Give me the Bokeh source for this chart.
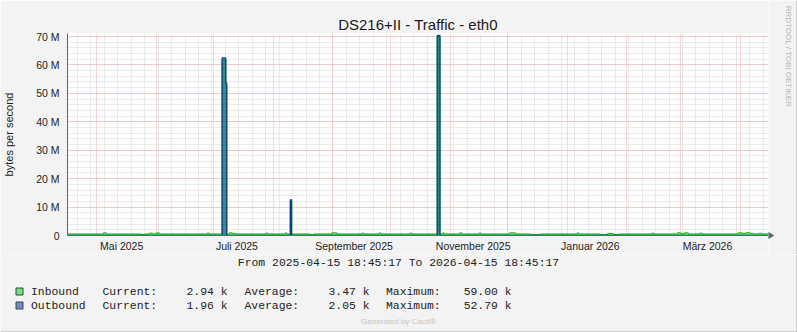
import math
import pandas as pd
from bokeh.plotting import figure
from bokeh.layouts import column, row
from bokeh.models import Range1d, FixedTicker
from bokeh.core.properties import value
from bokeh.embed import file_html
from bokeh.resources import INLINE

# ---------------- data ----------------
start_time = "2025-04-15 18:45:17"
end_time = "2026-04-15 18:45:17"

# Inbound (bytes/s): each value holds from its date until the next date
in_dates = [
    "2025-04-15 18:45:17", "2025-05-04 12:00", "2025-05-06 00:00", "2025-05-24 00:00",
    "2025-05-26 00:00", "2025-05-28 12:00", "2025-05-30 00:00", "2025-06-01 00:00",
    "2025-06-02 12:00", "2025-06-27 12:00", "2025-06-28 12:00", "2025-07-05 06:00",
    "2025-07-07 06:00", "2025-07-07 18:00", "2025-07-09 00:00", "2025-07-10 12:00",
    "2025-07-12 00:00", "2025-07-28 00:00", "2025-07-29 00:00", "2025-08-07 00:00",
    "2025-08-08 00:00", "2025-08-09 18:00", "2025-08-10 12:00", "2025-08-20 00:00",
    "2025-08-22 00:00", "2025-08-31 12:00", "2025-09-03 00:00", "2025-09-16 00:00",
    "2025-09-17 00:00", "2025-09-25 00:00", "2025-09-26 00:00", "2025-10-11 00:00",
    "2025-10-12 00:00", "2025-10-25 06:00", "2025-10-26 18:00", "2025-10-28 00:00",
    "2025-10-29 00:00", "2025-11-06 00:00", "2025-11-07 00:00", "2025-11-16 00:00",
    "2025-11-17 00:00", "2025-12-02 00:00", "2025-12-05 00:00", "2025-12-13 00:00",
    "2025-12-18 00:00", "2026-01-06 00:00", "2026-01-07 00:00", "2026-01-18 00:00",
    "2026-01-22 00:00", "2026-01-25 00:00", "2026-01-28 00:00", "2026-02-14 00:00",
    "2026-02-15 00:00", "2026-02-27 12:00", "2026-03-01 00:00", "2026-03-03 00:00",
    "2026-03-05 00:00", "2026-03-11 00:00", "2026-03-12 00:00", "2026-03-31 00:00",
    "2026-04-02 00:00", "2026-04-04 00:00", "2026-04-06 00:00", "2026-04-08 00:00",
    "2026-04-11 00:00", "2026-04-12 00:00",
]
in_vals = [
    0.55e6, 0.95e6, 0.55e6, 0.35e6,
    0.55e6, 0.85e6, 0.55e6, 0.95e6,
    0.55e6, 0.85e6, 0.55e6, 61.8e6,
    53.0e6, 0.55e6, 0.95e6, 0.75e6,
    0.55e6, 0.85e6, 0.55e6, 0.90e6,
    0.55e6, 12.0e6, 0.55e6, 0.35e6,
    0.55e6, 0.95e6, 0.55e6, 0.85e6,
    0.55e6, 0.90e6, 0.55e6, 0.85e6,
    0.55e6, 70.0e6, 0.55e6, 0.90e6,
    0.55e6, 0.95e6, 0.55e6, 0.85e6,
    0.55e6, 0.95e6, 0.55e6, 0.35e6,
    0.55e6, 0.90e6, 0.55e6, 0.35e6,
    0.75e6, 0.35e6, 0.55e6, 0.85e6,
    0.55e6, 1.00e6, 0.75e6, 0.95e6,
    0.55e6, 0.85e6, 0.55e6, 0.95e6,
    0.75e6, 1.00e6, 0.75e6, 0.55e6,
    0.85e6, 0.55e6,
]

# Outbound (bytes/s)
out_dates = [
    "2025-04-15 18:45:17", "2025-07-05 06:00", "2025-07-07 06:00", "2025-07-07 18:00",
    "2025-08-09 18:00", "2025-08-10 12:00", "2025-10-25 06:00", "2025-10-26 18:00",
]
out_vals = [
    0.10e6, 62.5e6, 53.7e6, 0.10e6,
    12.6e6, 0.10e6, 70.4e6, 0.10e6,
]

# axis labels
y_ticks = [0, 10e6, 20e6, 30e6, 40e6, 50e6, 60e6, 70e6]
y_labels = ["0", "10 M", "20 M", "30 M", "40 M", "50 M", "60 M", "70 M"]
x_label_dates = ["2025-05-14 00:00", "2025-07-13 00:00", "2025-09-12 00:00",
                 "2025-11-13 00:00", "2026-01-13 00:00", "2026-03-15 00:00"]
x_labels = ["Mai 2025", "Juli 2025", "September 2025",
            "November 2025", "Januar 2026", "März 2026"]

legend_names = ["Inbound", "Outbound"]
legend_current = ["2.94 k", "1.96 k"]
legend_average = ["3.47 k", "2.05 k"]
legend_maximum = ["59.00 k", "52.79 k"]
legend_box_fill = ["#74E374", "#7489C4"]

title_text = "DS216+II - Traffic - eth0"
range_text = "From 2025-04-15 18:45:17 To 2026-04-15 18:45:17"
generated_text = "Generated by Cacti®"
watermark_text = "RRDTOOL / TOBI OETIKER"

# ---------------- helpers ----------------
def ms(s):
    return pd.Timestamp(s).value / 1e6

def step_xy(dates, vals, end):
    xs, ys = [], []
    ts = [ms(d) for d in dates] + [ms(end)]
    for i, v in enumerate(vals):
        xs += [ts[i], ts[i + 1]]
        ys += [v, v]
    return xs, ys

t0, t1 = ms(start_time), ms(end_time)

BG = "#F3F3F3"
EDGE = "#A8A8A8"
SANS = "Liberation Sans"
MONO = "Liberation Mono"
TXT = "#222222"
axis_col = "#4F6F6A"

# ---------------- main chart ----------------
W, H_MAIN = 797, 254
FL, FR, FT, FB = 67, 768, 33, 235   # frame box in canvas px
Y_TOP = 70e6 * (FB - FT) / (FB - 36)

p = figure(width=FR, height=H_MAIN, output_backend="svg", toolbar_location=None,
           x_range=Range1d(t0, t1), y_range=Range1d(0, Y_TOP),
           x_axis_type="datetime",
           min_border_left=FL, min_border_right=0,
           min_border_top=FT, min_border_bottom=H_MAIN - FB)
p.border_fill_color = BG
p.background_fill_color = "#FFFFFF"
p.outline_line_color = None

p.title.text = title_text
p.title.align = "center"
p.title.offset = -19
p.title.standoff = 2
p.title.text_font = SANS
p.title.text_font_size = "15px"
p.title.text_font_style = "normal"
p.title.text_color = "#1A1A1A"

# grids: monthly red majors, weekly grey minors
month_starts = [ms(d) for d in pd.date_range("2025-05-01", "2026-04-01", freq="MS")]
mondays = [ms(d) for d in pd.date_range("2025-04-21", "2026-04-13", freq="7D")]
p.xgrid.ticker = FixedTicker(ticks=month_starts, minor_ticks=mondays)
p.ygrid.ticker = FixedTicker(ticks=y_ticks, minor_ticks=[v * 1e6 for v in range(0, 72, 2)])
for g in (p.xgrid, p.ygrid):
    g.grid_line_color = "#F3AAAA"
    g.grid_line_dash = "1 1"
    g.grid_line_width = 1
    g.minor_grid_line_color = "#D4D4D4"
    g.minor_grid_line_dash = "1 1"
    g.minor_grid_line_width = 1

# data areas and lines
ix, iy = step_xy(in_dates, in_vals, end_time)
ox, oy = step_xy(out_dates, out_vals, end_time)
p.varea(x=ix, y1=0, y2=iy, fill_color="#00CF00", fill_alpha=0.5)
p.line(x=ix, y=iy, line_color="#00CF00", line_width=1)
p.varea(x=ox, y1=0, y2=oy, fill_color="#002A97", fill_alpha=0.5)
p.line(x=ox, y=oy, line_color="#002A97", line_width=1)

# axes
p.yaxis.ticker = FixedTicker(ticks=y_ticks)
p.yaxis.major_label_overrides = {int(t): l for t, l in zip(y_ticks, y_labels)}
p.yaxis.axis_label = "bytes per second"
p.yaxis.axis_label_text_font = SANS
p.yaxis.axis_label_text_font_size = "11px"
p.yaxis.axis_label_text_font_style = "normal"
p.yaxis.axis_label_text_color = TXT
p.yaxis.axis_label_standoff = 18
p.yaxis.major_label_standoff = 8

x_tick_ms = [ms(d) for d in x_label_dates]
p.xaxis.ticker = FixedTicker(ticks=x_tick_ms)
p.xaxis.major_label_overrides = {t: l for t, l in zip(x_tick_ms, x_labels)}
p.xaxis.major_label_standoff = 4

for ax in (p.xaxis, p.yaxis):
    ax.axis_line_color = axis_col
    ax.axis_line_width = 1
    ax.major_tick_in = 0
    ax.major_tick_out = 0
    ax.minor_tick_in = 0
    ax.minor_tick_out = 0
    ax.major_label_text_font = SANS
    ax.major_label_text_font_size = "10.5px"
    ax.major_label_text_color = TXT

# ---------------- right strip (watermark) ----------------
SW = W - FR
side = figure(width=SW, height=H_MAIN, output_backend="svg", toolbar_location=None,
              x_range=Range1d(FR, W), y_range=Range1d(H_MAIN, 0),
              min_border=0, min_border_left=0, min_border_right=0,
              min_border_top=0, min_border_bottom=0)
side.title = None
side.axis.visible = False
side.grid.visible = False
side.outline_line_color = None
side.background_fill_color = BG
side.border_fill_color = BG
side.text(x=[788], y=[56], text=[watermark_text], angle=-math.pi / 2,
          text_font=value(SANS), text_font_size=value("8px"), text_color="#B4B4B4",
          text_align="center", text_baseline="middle")
# x-axis arrow head
side.patch(x=[FR, FR + 5, FR], y=[FB - 3, FB, FB + 3], fill_color=axis_col, line_color=axis_col)
side.line(x=[W - 0.5, W - 0.5], y=[0, H_MAIN], line_color=EDGE, line_width=1)

# ---------------- footer (legend) ----------------
H_FOOT = 332 - H_MAIN
foot = figure(width=W, height=H_FOOT, output_backend="svg", toolbar_location=None,
              x_range=Range1d(0, W), y_range=Range1d(332, H_MAIN),
              min_border=0, min_border_left=0, min_border_right=0,
              min_border_top=0, min_border_bottom=0)
foot.title = None
foot.axis.visible = False
foot.grid.visible = False
foot.outline_line_color = None
foot.background_fill_color = BG
foot.border_fill_color = BG

foot.text(x=[398], y=[262.5], text=[range_text], text_font=value(MONO),
          text_font_size=value("11.4px"), text_color=TXT,
          text_align="center", text_baseline="middle")
foot.text(x=[398], y=[321], text=[generated_text], text_font=value(SANS),
          text_font_size=value("8px"), text_color="#C4C4C4",
          text_align="center", text_baseline="middle")

rows_y = [291, 305]
left_x, left_t = [], []
right_x, right_t = [], []
ly, ry = [], []
for i in range(2):
    y = rows_y[i]
    for x, t in ((30.5, legend_names[i]), (102, "Current:"), (244, "Average:"), (385.5, "Maximum:")):
        left_x.append(x); left_t.append(t); ly.append(y)
    for x, t in ((227, legend_current[i]), (369, legend_average[i]), (511, legend_maximum[i])):
        right_x.append(x); right_t.append(t); ry.append(y)
foot.text(x=left_x, y=ly, text=left_t, text_font=value(MONO), text_font_size=value("11.4px"),
          text_color=TXT, text_align="left", text_baseline="middle")
foot.text(x=right_x, y=ry, text=right_t, text_font=value(MONO), text_font_size=value("11.4px"),
          text_color=TXT, text_align="right", text_baseline="middle")
foot.quad(left=[15.5, 15.5], right=[22.5, 22.5],
          top=[y - 3.5 for y in rows_y], bottom=[y + 3.5 for y in rows_y],
          fill_color=legend_box_fill, line_color="#2B4B48", line_width=1)

foot.line(x=[0, W], y=[331.5, 331.5], line_color=EDGE, line_width=1)
foot.line(x=[W - 0.5, W - 0.5], y=[H_MAIN, 332], line_color=EDGE, line_width=1)

layout = column(row(p, column(side, spacing=0), spacing=0), foot, spacing=0)
open("out.html", "w").write(file_html(layout, INLINE))
